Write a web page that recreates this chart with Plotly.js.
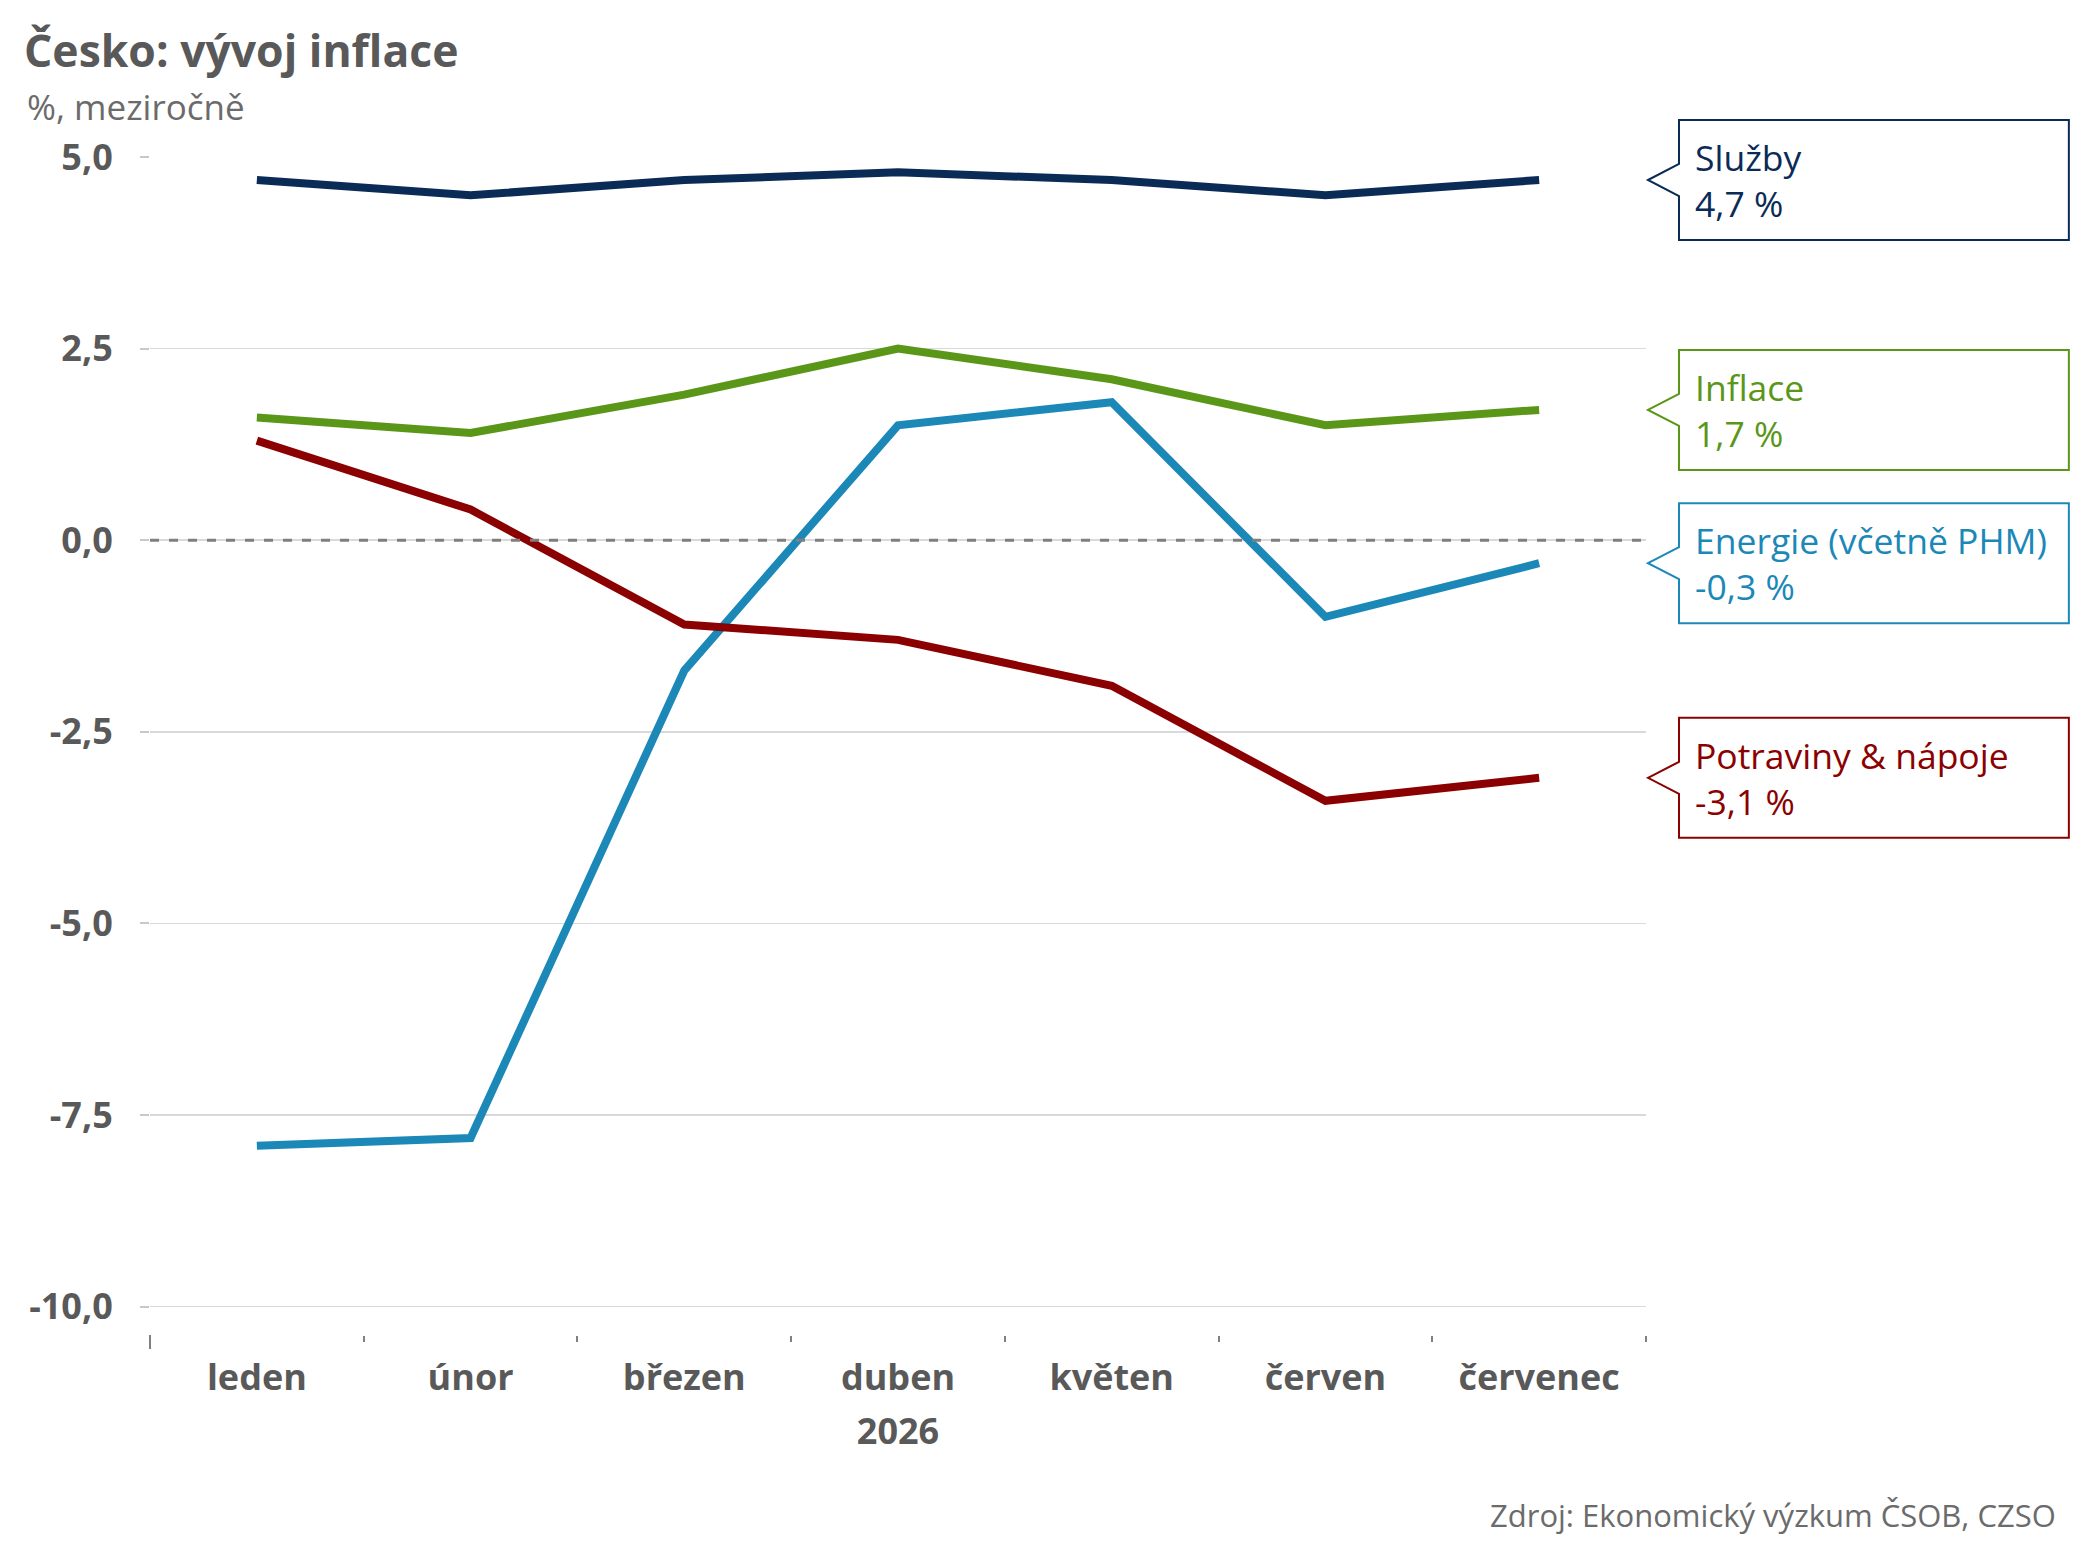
<!DOCTYPE html>
<html>
<head>
<meta charset="utf-8">
<script src="https://cdn.plot.ly/plotly-3.0.1.min.js"></script>
<style>html,body{margin:0;padding:0;background:#fff;}#chart{width:2093px;height:1568px;}</style>
</head>
<body>
<div id="chart"></div>
<script>
// ---- data ----
const months = ['leden', 'únor', 'březen', 'duben', 'květen', 'červen', 'červenec'];
const yearLabel = '2026';
const sluzby = [4.7, 4.5, 4.7, 4.8, 4.7, 4.5, 4.7];
const inflace = [1.6, 1.4, 1.9, 2.5, 2.1, 1.5, 1.7];
const energie = [-7.9, -7.8, -1.7, 1.5, 1.8, -1.0, -0.3];
const potraviny = [1.3, 0.4, -1.1, -1.3, -1.9, -3.4, -3.1];
const seriesNames = ['Služby', 'Inflace', 'Energie (včetně PHM)', 'Potraviny & nápoje'];
const seriesColors = ['#0b2b57', '#5a9618', '#1b88b8', '#8b0000'];
const yTickVals = [-10, -7.5, -5, -2.5, 0, 2.5, 5];
const yTickText = yTickVals.map(v => v.toFixed(1).replace('.', ','));
const fmt = v => v.toFixed(1).replace('.', ',') + ' %';

// ---- layout geometry ----
const W = 2093, H = 1568;
const mL = 149.5, mR = W - 1646, mT = 157, mB = H - 1335;
const yRange = [-10.37, 5];
const plotW = W - mL - mR, plotH = H - mT - mB;
const px2paperX = p => (p - mL) / plotW;
const val2paperY = v => (v - yRange[0]) / (yRange[1] - yRange[0]);

const allSeries = [sluzby, inflace, energie, potraviny];
const FONT = 'Open Sans, Noto Sans, sans-serif';

const traces = allSeries.map((vals, i) => ({
  type: 'scatter', mode: 'lines', x: months, y: vals, name: seriesNames[i],
  line: {color: seriesColors[i], width: 8}, hoverinfo: 'skip'
}));

// zero reference line (drawn over the lines, as in the original) + left edge tick
const shapes = [
  {type: 'line', xref: 'paper', yref: 'y', x0: 0, x1: 1, y0: 0, y1: 0,
   line: {color: '#7f7f7f', width: 3, dash: '9px,10px'}, layer: 'above'},
  {type: 'line', xref: 'paper', yref: 'paper', x0: 0, x1: 0, y0: 0, y1: -14 / plotH,
   line: {color: '#808080', width: 2}}
];
const annotations = [];
const tipX = px2paperX(1648), boxL = px2paperX(1679), boxR = px2paperX(2069);
const halfBox = 60 / plotH, halfBase = 16 / plotH;
allSeries.forEach((vals, i) => {
  const v = vals[vals.length - 1];
  const p = val2paperY(v);
  const path = `M ${tipX},${p} L ${boxL},${p + halfBase} L ${boxL},${p + halfBox} L ${boxR},${p + halfBox} ` +
    `L ${boxR},${p - halfBox} L ${boxL},${p - halfBox} L ${boxL},${p - halfBase} Z`;
  shapes.push({type: 'path', xref: 'paper', yref: 'paper', path: path, fillcolor: '#ffffff',
    line: {color: seriesColors[i], width: 2}, layer: 'above', opacity: 1});
  annotations.push({xref: 'paper', yref: 'paper', x: px2paperX(1693), y: p, xanchor: 'left', yanchor: 'middle',
    align: 'left', showarrow: false, text: seriesNames[i] + '<br>' + fmt(v),
    font: {family: FONT, size: 35.5, color: seriesColors[i]}});
});

annotations.push({xref: 'paper', yref: 'paper', x: px2paperX(24), y: 1 + (mT - 107) / plotH,
  xanchor: 'left', yanchor: 'middle', showarrow: false, text: '%, meziročně',
  font: {family: FONT, size: 35, color: '#6b6b6b'}});
annotations.push({xref: 'paper', yref: 'paper', x: px2paperX(2058), y: -(1515 - 1335) / plotH,
  xanchor: 'right', yanchor: 'middle', showarrow: false, text: 'Zdroj: Ekonomický výzkum ČSOB, CZSO',
  font: {family: FONT, size: 31, color: '#6b6b6b'}});

const layout = {
  width: W, height: H,
  margin: {l: mL, r: mR, t: mT, b: mB, pad: 0},
  paper_bgcolor: '#ffffff', plot_bgcolor: '#ffffff',
  showlegend: false,
  font: {family: FONT, color: '#595959'},
  title: {text: '<b>Česko: vývoj inflace</b>', x: 24 / W, xanchor: 'left', xref: 'container',
    y: 1 - 51 / H, yanchor: 'middle', yref: 'container',
    font: {family: FONT, size: 44.5, color: '#595959'}},
  xaxis: {
    type: 'category', range: [-0.5, 6.5], tickson: 'boundaries',
    ticks: 'outside', ticklen: 6, tickwidth: 2, tickcolor: '#808080',
    showline: false, showgrid: false, zeroline: false,
    tickfont: {family: FONT, size: 36, color: '#595959', weight: 'bold'},
    ticklabelstandoff: 18,
    title: {text: '<b>' + yearLabel + '</b>', font: {family: FONT, size: 36, color: '#595959'}, standoff: 18}
  },
  yaxis: {
    range: yRange, tickvals: yTickVals, ticktext: yTickText,
    ticks: 'outside', ticklen: 9, tickwidth: 2, tickcolor: '#c8c8c8',
    showgrid: true, gridcolor: '#d9d9d9', gridwidth: 1.5, zeroline: false, showline: false,
    tickfont: {family: FONT, size: 36, color: '#595959', weight: 'bold'},
    ticklabelstandoff: 20
  },
  shapes: shapes,
  annotations: annotations
};

Plotly.newPlot('chart', traces, layout, {staticPlot: true, displayModeBar: false});
</script>
</body>
</html>
